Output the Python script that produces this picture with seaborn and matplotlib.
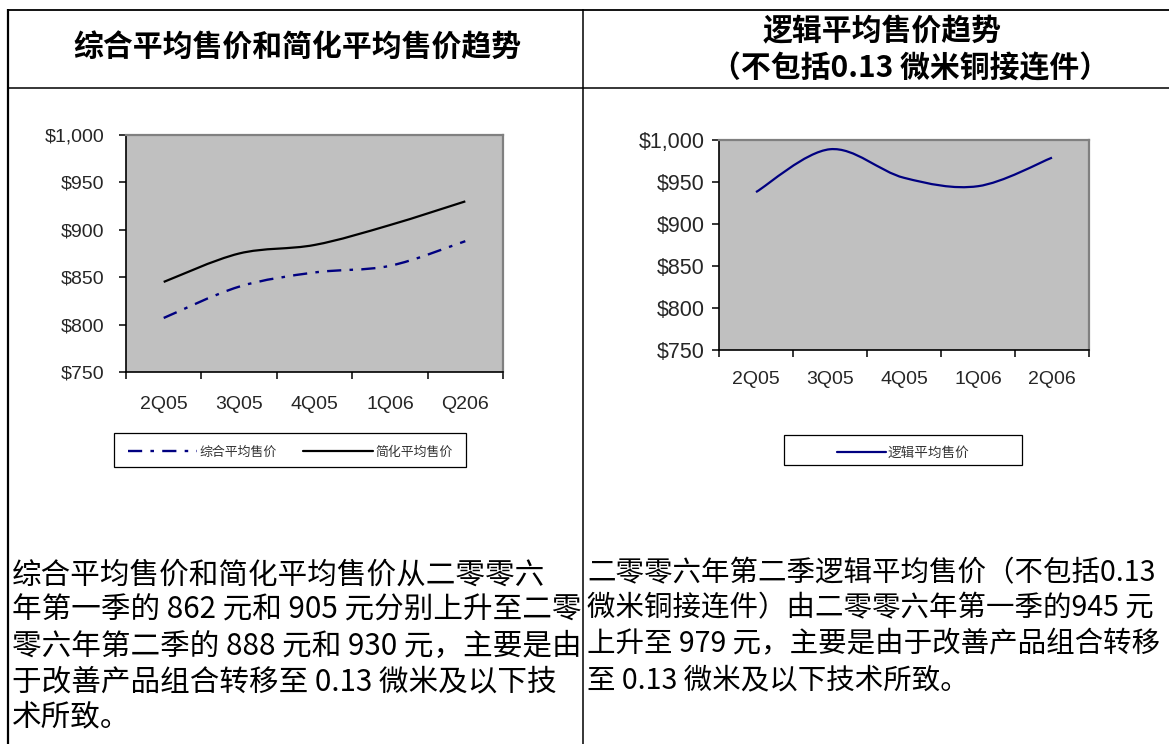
import numpy as np
import matplotlib
matplotlib.use("Agg")
import matplotlib.pyplot as plt
import seaborn as sns
from matplotlib.path import Path
from matplotlib.patches import PathPatch, Rectangle
from matplotlib.lines import Line2D

# ---------------- data ----------------
quarters_left = ["2Q05", "3Q05", "4Q05", "1Q06", "Q206"]
blended_asp = [807, 840, 855, 862, 888]        # 综合平均售价
simplified_asp = [845, 875, 884, 905, 930]     # 简化平均售价
quarters_right = ["2Q05", "3Q05", "4Q05", "1Q06", "2Q06"]
logic_asp = [938, 989, 955, 945, 979]          # 逻辑平均售价
y_ticks = [750, 800, 850, 900, 950, 1000]
y_tick_labels = ["$750", "$800", "$850", "$900", "$950", "$1,000"]

title_left = "综合平均售价和简化平均售价趋势"
title_right_1 = "逻辑平均售价趋势"
title_right_2 = "（不包括0.13 微米铜接连件）"
label_blended = "综合平均售价"
label_simplified = "简化平均售价"
label_logic = "逻辑平均售价"
body_left = [
    "综合平均售价和简化平均售价从二零零六",
    "年第一季的 862 元和 905 元分别上升至二零",
    "零六年第二季的 888 元和 930 元，主要是由",
    "于改善产品组合转移至 0.13 微米及以下技",
    "术所致。",
]
body_right = [
    "二零零六年第二季逻辑平均售价（不包括0.13",
    "微米铜接连件）由二零零六年第一季的945 元",
    "上升至 979 元，主要是由于改善产品组合转移",
    "至 0.13 微米及以下技术所致。",
]

# ---------------- style ----------------
sns.set_theme(style="white")
plt.rcParams["font.family"] = ["Noto Sans CJK SC", "DejaVu Sans"]
NAVY = "#000080"
W, H = 1169, 744
fig = plt.figure(figsize=(W / 100, H / 100), dpi=100)
fig.patch.set_facecolor("white")


def fx(px):
    return px / W


def fy(py):
    return 1 - py / H


def smooth_path(values):
    xs = np.arange(len(values), dtype=float)
    pts = np.column_stack([xs, np.asarray(values, dtype=float)])
    ext = np.vstack([pts[0], pts, pts[-1]])
    verts = [pts[0]]
    codes = [Path.MOVETO]
    for i in range(len(pts) - 1):
        p0, p1, p2, p3 = ext[i], ext[i + 1], ext[i + 2], ext[i + 3]
        verts += [p1 + (p2 - p0) / 6, p2 - (p3 - p1) / 6, p2]
        codes += [Path.CURVE4] * 3
    return Path(verts, codes)


def style_axes(ax, cats, ylab_size, ypad, xpad):
    ax.set_facecolor("#C0C0C0")
    ax.set_xlim(-0.5, len(cats) - 0.5)
    ax.set_ylim(750, 1000)
    ax.set_yticks(y_ticks)
    ax.set_yticklabels(y_tick_labels, fontfamily="Liberation Sans", fontsize=ylab_size)
    ax.set_xticks(np.arange(-0.5, len(cats), 1.0))
    ax.set_xticklabels([])
    ax.set_xticks(np.arange(len(cats)), minor=True)
    ax.set_xticklabels(cats, minor=True, fontfamily="Liberation Sans", fontsize=14)
    ax.tick_params(axis="x", which="major", direction="out", length=5, width=1.1,
                   color="black", bottom=True)
    ax.tick_params(axis="x", which="minor", length=0, pad=xpad, bottom=True)
    ax.tick_params(axis="y", direction="out", length=5, width=1.1, color="black",
                   pad=ypad, left=True)
    for s in ("left", "bottom"):
        ax.spines[s].set_color("black")
        ax.spines[s].set_linewidth(1.2)
    for s in ("top", "right"):
        ax.spines[s].set_color("#808080")
        ax.spines[s].set_linewidth(1.6)
    ax.grid(False)


# ---------------- left chart ----------------
axL = fig.add_axes([fx(126), fy(372), fx(503 - 126), (372 - 135) / H])
style_axes(axL, quarters_left, 14, 10.5, 17)
axL.add_patch(PathPatch(smooth_path(simplified_asp), fill=False, edgecolor="black",
                        lw=1.6, capstyle="butt"))
axL.add_patch(PathPatch(smooth_path(blended_asp), fill=False, edgecolor=NAVY,
                        lw=1.7, linestyle=(0, (6, 3.5, 1.5, 3.5)), capstyle="butt"))

# ---------------- right chart ----------------
axR = fig.add_axes([fx(719), fy(350), fx(1089 - 719), (350 - 140) / H])
style_axes(axR, quarters_right, 15.5, 5.5, 15)
axR.add_patch(PathPatch(smooth_path(logic_asp), fill=False, edgecolor=NAVY,
                        lw=1.6, capstyle="butt"))

# ---------------- legends ----------------
fig.add_artist(Rectangle((fx(114), fy(467)), fx(466 - 114), (467 - 433) / H,
                         transform=fig.transFigure, fill=False, edgecolor="black", lw=0.9))
fig.add_artist(Rectangle((fx(784), fy(465)), fx(1022 - 784), (465 - 435) / H,
                         transform=fig.transFigure, fill=False, edgecolor="black", lw=0.9))

hL = [Line2D([], [], color=NAVY, lw=1.7, linestyle=(0, (6, 3.5, 1.5, 3.5))),
      Line2D([], [], color="black", lw=1.6)]
legL = fig.legend(hL, [label_blended, label_simplified], loc="center",
                  bbox_to_anchor=(fx(290), fy(452)), ncol=2, frameon=False,
                  fontsize=9.3, handlelength=5.4, handletextpad=0.2, columnspacing=2.0,
                  borderpad=0.0)
hR = [Line2D([], [], color=NAVY, lw=1.6)]
legR = fig.legend(hR, [label_logic], loc="center", bbox_to_anchor=(fx(903), fy(453)),
                  frameon=False, fontsize=9.8, handlelength=3.6, handletextpad=0.15,
                  borderpad=0.0)
for leg in (legL, legR):
    for t in leg.get_texts():
        t.set_color("#333333")

# ---------------- table lines ----------------
def fline(x0, y0, x1, y1, lw):
    fig.add_artist(Line2D([fx(x0), fx(x1)], [fy(y0), fy(y1)], color="black", lw=lw,
                          transform=fig.transFigure, solid_capstyle="butt"))


fline(8, 9.5, W, 9.5, 1.3)
fline(8, 88, W, 88, 1.1)
fline(8, 8.5, 8, H, 1.6)
fline(583, 9, 583, H, 1.1)

# ---------------- headers ----------------
fig.text(fx(297), fy(48), title_left, ha="center", va="center", fontsize=21.5,
         fontweight="bold", color="black")
fig.text(fx(882), fy(31), title_right_1, ha="center", va="center", fontsize=21.5,
         fontweight="bold", color="black")
fig.text(fx(910), fy(68), title_right_2, ha="center", va="center", fontsize=21.5,
         fontweight="bold", color="black")

# ---------------- body text ----------------
for i, line in enumerate(body_left):
    fig.text(fx(12), fy(575 + 35.5 * i), line, ha="left", va="center", fontsize=21.3,
             color="black")
for i, line in enumerate(body_right):
    fig.text(fx(587), fy(573 + 35.7 * i), line, ha="left", va="center", fontsize=20.5,
             color="black")

fig.savefig("out.png", dpi=100)
